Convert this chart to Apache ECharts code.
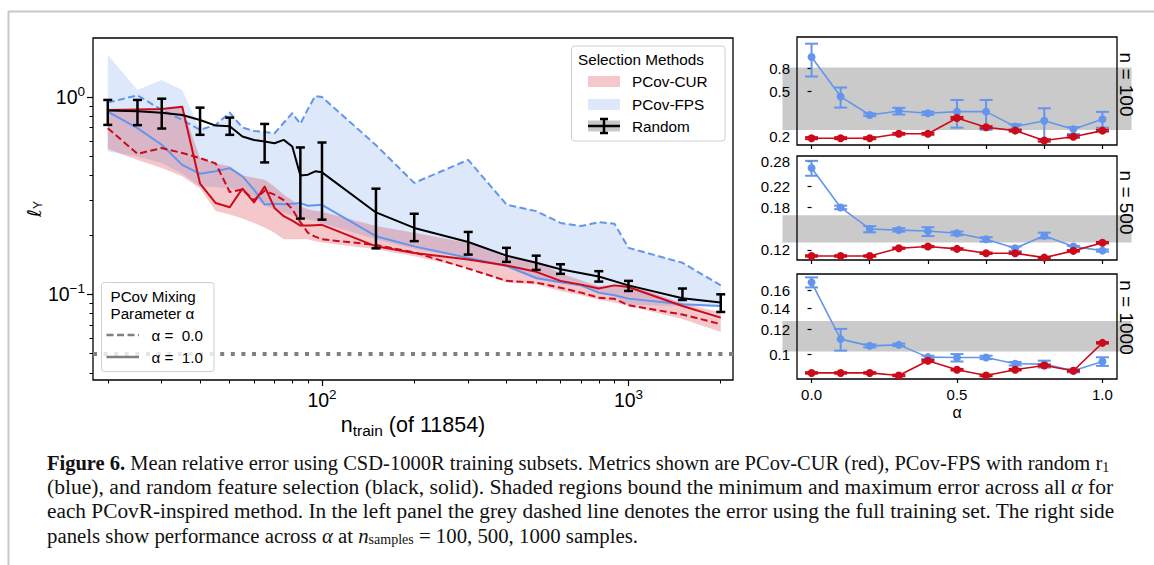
<!DOCTYPE html>
<html>
<head>
<meta charset="utf-8">
<script src="https://cdn.jsdelivr.net/npm/echarts@6.0.0/dist/echarts.min.js"></script>
<style>
  html, body { margin: 0; padding: 0; background: #ffffff; }
  #chart { width: 1154px; height: 565px; }
</style>
</head>
<body>
<div id="chart"></div>
<script>
// ---------- left panel: error vs. number of training samples ----------
const nTrain = [20, 25, 30, 35, 40, 45, 50, 55, 60, 65, 70, 75, 80, 85, 90, 95, 100,
                150, 200, 300, 400, 500, 600, 700, 800, 900, 1000, 1500, 2000];

// PCov-CUR, alpha = 0 (dashed) and alpha = 1 (solid)
const curAlpha0 = [0.695, 0.515, 0.551, 0.52, 0.49, 0.46, 0.33, 0.34, 0.30, 0.335, 0.32, 0.30, 0.27, 0.232, 0.205, 0.196, 0.19,
                   0.178, 0.163, 0.135, 0.117, 0.1146, 0.108, 0.102, 0.0962, 0.0949, 0.088, 0.079, 0.0706];
const curAlpha1 = [0.86, 0.865, 0.87, 0.893, 0.364, 0.29, 0.276, 0.343, 0.292, 0.352, 0.274, 0.249, 0.236, 0.223, 0.223, 0.224, 0.225,
                   0.175, 0.162, 0.150, 0.140, 0.130, 0.117, 0.112, 0.107, 0.111, 0.109, 0.0873, 0.0762];
// PCov-CUR min / max over all alpha
const curMin = [0.545, 0.48, 0.436, 0.396, 0.345, 0.264, 0.254, 0.242, 0.23, 0.218, 0.205, 0.19, 0.19, 0.19, 0.19, 0.186, 0.183,
                0.169, 0.156, 0.136, 0.115, 0.112, 0.104, 0.099, 0.094, 0.091, 0.0873, 0.075, 0.0645];
const curMax = [0.86, 0.865, 0.87, 0.893, 0.49, 0.46, 0.445, 0.40, 0.39, 0.381, 0.352, 0.32, 0.30, 0.279, 0.27, 0.265, 0.262,
                0.222, 0.205, 0.182, 0.154, 0.147, 0.128, 0.118, 0.110, 0.112, 0.112, 0.09, 0.081];

// PCov-FPS, alpha = 0 (dashed) and alpha = 1 (solid)
const fpsAlpha0 = [0.936, 1.02, 0.86, 0.765, 0.681, 0.722, 0.833, 0.70, 0.672, 0.665, 0.655, 0.74, 0.827, 0.73, 0.87, 1.01, 1.0,
                   0.57, 0.367, 0.48, 0.285, 0.264, 0.230, 0.222, 0.232, 0.228, 0.172, 0.1445, 0.111];
const fpsAlpha1 = [0.843, 0.695, 0.573, 0.453, 0.408, 0.42, 0.436, 0.396, 0.339, 0.285, 0.288, 0.286, 0.288, 0.29, 0.281, 0.283, 0.284,
                   0.197, 0.175, 0.153, 0.139, 0.121, 0.115, 0.111, 0.102, 0.099, 0.0951, 0.0891, 0.0873];
// PCov-FPS min / max over all alpha
const fpsMin = [0.53, 0.50, 0.463, 0.41, 0.352, 0.35, 0.345, 0.33, 0.31, 0.283, 0.27, 0.26, 0.25, 0.245, 0.24, 0.235, 0.23,
                0.19, 0.17, 0.152, 0.138, 0.119, 0.114, 0.11, 0.10, 0.098, 0.0885, 0.087, 0.0865];
const fpsMax = [1.63, 1.085, 1.22, 1.085, 0.681, 0.722, 0.833, 0.70, 0.672, 0.665, 0.655, 0.74, 0.827, 0.73, 0.87, 1.01, 1.0,
                0.57, 0.367, 0.48, 0.285, 0.264, 0.230, 0.222, 0.232, 0.228, 0.172, 0.1445, 0.111];

// random selection: mean curve, and error bars on a subset of sizes
const randomN = [20, 25, 30, 35, 40, 45, 50, 55, 60, 65, 70, 75, 80, 85, 90, 95, 100,
                 150, 200, 300, 400, 500, 600, 800, 1000, 1500, 2000];
const randomMean = [0.853, 0.847, 0.833, 0.811, 0.765, 0.716, 0.711, 0.63, 0.605, 0.595, 0.583, 0.606, 0.561, 0.40, 0.404, 0.42, 0.415,
                    0.26, 0.217, 0.184, 0.157, 0.1445, 0.134, 0.123, 0.111, 0.0955, 0.0908];
const randomBarN = [20, 25, 30, 40, 50, 65, 85, 100, 150, 200, 300, 400, 500, 600, 800, 1000, 1500, 2000];
const randomLow  = [0.722, 0.72, 0.692, 0.643, 0.643, 0.466, 0.242, 0.239, 0.171, 0.186, 0.159, 0.146, 0.133, 0.127, 0.116, 0.104, 0.0936, 0.0814];
const randomHigh = [0.966, 0.966, 0.98, 0.883, 0.786, 0.73, 0.555, 0.588, 0.343, 0.256, 0.207, 0.172, 0.157, 0.142, 0.131, 0.117, 0.107, 0.1];

// error with the full training set
const fullSetError = 0.0454;

// axis ticks of the left panel
const nMajorTicks = [100, 1000];
const nMinorTicks = [20, 30, 40, 50, 60, 70, 80, 90, 200, 300, 400, 500, 600, 700, 800, 900, 2000];
const errMajorTicks = [0.1, 1];
const errMinorTicks = [0.04, 0.05, 0.06, 0.07, 0.08, 0.09, 0.2, 0.3, 0.4, 0.5, 0.6, 0.7, 0.8, 0.9];

// ---------- right panels: error vs. alpha ----------
const alphas = [0, 0.1, 0.2, 0.3, 0.4, 0.5, 0.6, 0.7, 0.8, 0.9, 1.0];
const alphaTicks = [0, 0.2, 0.4, 0.6, 0.8, 1.0];
const alphaLabelTicks = [0, 0.5, 1.0];
const alphaBandSpan = [-0.1, 1.1];

// n = 100
const fps100    = [1.0, 0.45, 0.31, 0.336, 0.321, 0.332, 0.332, 0.245, 0.276, 0.232, 0.284];
const fps100Lo  = [0.675, 0.36, 0.303, 0.313, 0.311, 0.24, 0.23, 0.232, 0.19, 0.211, 0.24];
const fps100Hi  = [1.31, 0.54, 0.32, 0.358, 0.332, 0.42, 0.42, 0.257, 0.355, 0.242, 0.33];
const cur100    = [0.194, 0.194, 0.194, 0.212, 0.212, 0.292, 0.242, 0.226, 0.185, 0.2, 0.226];
const cur100Lo  = [0.19, 0.19, 0.19, 0.208, 0.208, 0.286, 0.237, 0.222, 0.181, 0.196, 0.222];
const cur100Hi  = [0.198, 0.198, 0.198, 0.216, 0.216, 0.298, 0.247, 0.23, 0.189, 0.204, 0.23];
const band100   = [0.229, 0.81];
const ticks100  = [0.2, 0.5, 0.8];

// n = 500
const fps500    = [0.262, 0.180, 0.1466, 0.145, 0.1438, 0.1406, 0.1328, 0.122, 0.1374, 0.124, 0.1192];
const fps500Lo  = [0.2435, 0.177, 0.142, 0.1429, 0.137, 0.138, 0.1299, 0.1187, 0.1341, 0.1198, 0.118];
const fps500Hi  = [0.2807, 0.183, 0.1505, 0.1476, 0.149, 0.143, 0.1354, 0.1239, 0.1415, 0.1247, 0.1205];
const cur500    = [0.1133, 0.1133, 0.1133, 0.122, 0.1239, 0.1212, 0.1163, 0.1163, 0.1115, 0.1189, 0.1286];
const cur500Lo  = [0.1125, 0.1125, 0.1125, 0.1212, 0.1231, 0.1204, 0.1155, 0.1155, 0.1107, 0.1181, 0.1277];
const cur500Hi  = [0.1141, 0.1141, 0.1141, 0.1228, 0.1247, 0.122, 0.1171, 0.1171, 0.1123, 0.1197, 0.1295];
const band500   = [0.1287, 0.167];
const ticks500  = [0.12, 0.18, 0.22, 0.28];

// n = 1000
const fps1000   = [0.1693, 0.1116, 0.1062, 0.107, 0.0978, 0.0975, 0.0975, 0.0932, 0.0929, 0.0885, 0.0947];
const fps1000Lo = [0.1631, 0.1026, 0.105, 0.106, 0.0964, 0.0947, 0.0964, 0.092, 0.0906, 0.0875, 0.0917];
const fps1000Hi = [0.1756, 0.1203, 0.1074, 0.108, 0.0988, 0.1, 0.0988, 0.0944, 0.0953, 0.0895, 0.0977];
const cur1000   = [0.0871, 0.0871, 0.0871, 0.0855, 0.0952, 0.0892, 0.0855, 0.0892, 0.092, 0.0885, 0.1086];
const cur1000Lo = [0.0866, 0.0866, 0.0866, 0.085, 0.0946, 0.0887, 0.085, 0.0887, 0.0914, 0.088, 0.108];
const cur1000Hi = [0.0876, 0.0876, 0.0876, 0.086, 0.0958, 0.0897, 0.086, 0.0897, 0.0926, 0.089, 0.1092];
const band1000  = [0.1019, 0.1276];
const ticks1000 = [0.1, 0.12, 0.14, 0.16];

// ---------- styling ----------
const SANS = '"Liberation Sans", Arial, Helvetica, sans-serif';
const SERIF = '"Liberation Serif", "Times New Roman", serif';
const RED = '#cc0a1a';
const BLUE = '#6495ed';
const RED_FILL = 'rgba(204,0,17,0.22)';
const BLUE_FILL = 'rgba(100,149,237,0.22)';
const GREY = '#808080';

const chart = echarts.init(document.getElementById('chart'), null, { renderer: 'svg', width: 1154, height: 565 });

function pairs(xs, ys) { return xs.map((x, i) => [x, ys[i]]); }

function bandSeries(xs, lo, hi, fill, z) {
  return {
    type: 'custom', xAxisIndex: 0, yAxisIndex: 0, silent: true, z: z,
    data: [[xs[0], hi[0]]],
    renderItem: function (params, api) {
      const pts = [];
      for (let i = 0; i < xs.length; i++) pts.push(api.coord([xs[i], hi[i]]));
      for (let i = xs.length - 1; i >= 0; i--) pts.push(api.coord([xs[i], lo[i]]));
      return { type: 'polygon', shape: { points: pts }, style: { fill: fill, stroke: null } };
    }
  };
}

function lineSeries(xs, ys, color, dash, width, xi, yi, z) {
  return {
    type: 'line', xAxisIndex: xi, yAxisIndex: yi, data: pairs(xs, ys),
    symbol: 'none', showSymbol: false, silent: true, z: z,
    lineStyle: { color: color, width: width, type: dash || 'solid', cap: 'butt', join: 'round' }
  };
}

function errorBars(xs, lo, hi, color, capHalf, width, xi, yi, z) {
  return {
    type: 'custom', xAxisIndex: xi, yAxisIndex: yi, silent: true, z: z,
    data: xs.map((x, i) => [x, lo[i], hi[i]]),
    encode: { x: 0, y: [1, 2] },
    renderItem: function (params, api) {
      const x = api.value(0);
      const a = api.coord([x, api.value(1)]);
      const b = api.coord([x, api.value(2)]);
      const st = { stroke: color, lineWidth: width, fill: null };
      return {
        type: 'group', children: [
          { type: 'line', shape: { x1: a[0], y1: a[1], x2: b[0], y2: b[1] }, style: st },
          { type: 'line', shape: { x1: a[0] - capHalf, y1: a[1], x2: a[0] + capHalf, y2: a[1] }, style: st },
          { type: 'line', shape: { x1: b[0] - capHalf, y1: b[1], x2: b[0] + capHalf, y2: b[1] }, style: st }
        ]
      };
    }
  };
}

function alphaBand(range, xi, yi) {
  return {
    type: 'custom', xAxisIndex: xi, yAxisIndex: yi, silent: true, z: -1, clip: false,
    data: [[alphaBandSpan[0], range[0]]],
    renderItem: function (params, api) {
      const p0 = api.coord([alphaBandSpan[0], range[1]]);
      const p1 = api.coord([alphaBandSpan[1], range[0]]);
      return { type: 'rect', shape: { x: p0[0], y: p0[1], width: p1[0] - p0[0], height: p1[1] - p0[1] },
               style: { fill: '#cacaca' } };
    }
  };
}

function alphaSeries(ys, color, xi, yi, z) {
  return {
    type: 'line', xAxisIndex: xi, yAxisIndex: yi, data: pairs(alphas, ys), silent: true, z: z,
    symbol: 'circle', symbolSize: 8, showSymbol: true,
    itemStyle: { color: color }, lineStyle: { color: color, width: 1.6 }
  };
}

const tickStyle = { color: '#000', width: 1.2 };

function sciLabel(v) {
  const e = Math.round(Math.log10(v));
  return '{b|10}{e|' + (e < 0 ? '\u2212' + (-e) : e) + '}';
}
const sciRich = {
  b: { fontSize: 19.5, fontFamily: SANS, color: '#000' },
  e: { fontSize: 13.5, fontFamily: SANS, color: '#000', padding: [0, 0, 11, 0] }
};

const grids = [
  { left: 93, top: 38, width: 640, height: 342 },
  { left: 797, top: 37, width: 320, height: 108 },
  { left: 797, top: 156, width: 320, height: 104 },
  { left: 797, top: 274, width: 320, height: 105 }
].map(g => Object.assign({ show: true, borderColor: '#000', borderWidth: 1.3, backgroundColor: 'transparent',
                           containLabel: false, outerBoundsMode: 'none' }, g));

function alphaAxis(gi, withLabels) {
  return {
    type: 'value', gridIndex: gi, min: -0.05, max: 1.05, position: 'bottom',
    axisLine: { show: false }, splitLine: { show: false },
    axisTick: { show: true, length: 4, lineStyle: tickStyle,
                customValues: withLabels ? alphaLabelTicks : alphaTicks },
    axisLabel: { show: withLabels, customValues: alphaLabelTicks, formatter: v => v.toFixed(1),
                 fontSize: 15, fontFamily: SANS, color: '#000', margin: 8 },
    name: withLabels ? '\u03b1' : '', nameLocation: 'middle', nameGap: 25,
    nameTextStyle: { fontSize: 16, fontFamily: SANS, color: '#000' }
  };
}

function errAxis(gi, lo, hi, ticks) {
  return {
    type: 'log', logBase: 10, gridIndex: gi, min: lo, max: hi, position: 'left',
    axisLine: { show: false }, splitLine: { show: false },
    axisTick: { show: true, length: 4, lineStyle: tickStyle, customValues: ticks },
    axisLabel: { customValues: ticks, formatter: v => String(+(+v).toPrecision(3)),
                 fontSize: 15, fontFamily: SANS, color: '#000', margin: 7 }
  };
}

const option = {
  animation: false,
  backgroundColor: '#ffffff',
  grid: grids,
  xAxis: [
    {
      type: 'log', logBase: 10, gridIndex: 0, min: 17.9, max: 2193, position: 'bottom',
      axisLine: { show: false }, splitLine: { show: false },
      axisTick: { show: true, length: 6, lineStyle: tickStyle, customValues: nMajorTicks },
      axisLabel: { customValues: nMajorTicks, formatter: sciLabel, rich: sciRich, margin: 7 },
      name: 'n{s|train} (of 11854)', nameLocation: 'middle', nameGap: 28,
      nameTextStyle: { fontSize: 21.5, fontFamily: SANS, color: '#000',
                       rich: { s: { fontSize: 15.5, fontFamily: SANS, color: '#000', padding: [11, 0, 0, 0] } } }
    },
    {
      type: 'log', logBase: 10, gridIndex: 0, min: 17.9, max: 2193, position: 'bottom',
      axisLine: { show: false }, splitLine: { show: false },
      axisTick: { show: true, length: 3.5, lineStyle: { color: '#000', width: 1 }, customValues: nMinorTicks },
      axisLabel: { show: false }
    },
    alphaAxis(1, false),
    alphaAxis(2, false),
    alphaAxis(3, true)
  ],
  yAxis: [
    {
      type: 'log', logBase: 10, gridIndex: 0, min: 0.0368, max: 1.99, position: 'left',
      axisLine: { show: false }, splitLine: { show: false },
      axisTick: { show: true, length: 6, lineStyle: tickStyle, customValues: errMajorTicks },
      axisLabel: { customValues: errMajorTicks, formatter: sciLabel, rich: sciRich, margin: 8 },
      name: '{l|\u2113}{s|Y}', nameLocation: 'middle', nameRotate: 90, nameGap: 49, nameMoveOverlap: false,
      nameTextStyle: { color: '#000', fontFamily: SANS, fontSize: 19,
                       rich: { l: { fontSize: 19, fontFamily: '"DejaVu Sans", sans-serif', color: '#000' },
                               s: { fontSize: 12, fontFamily: SANS, color: '#000', padding: [9, 0, 0, 0] } } }
    },
    {
      type: 'log', logBase: 10, gridIndex: 0, min: 0.0368, max: 1.99, position: 'left',
      axisLine: { show: false }, splitLine: { show: false },
      axisTick: { show: true, length: 3.5, lineStyle: { color: '#000', width: 1 }, customValues: errMinorTicks },
      axisLabel: { show: false }
    },
    errAxis(1, 0.169, 1.50, ticks100),
    errAxis(2, 0.109, 0.294, ticks500),
    errAxis(3, 0.0833, 0.18, ticks1000)
  ],
  series: [
    // shaded min/max regions
    bandSeries(nTrain, fpsMin, fpsMax, BLUE_FILL, 1),
    bandSeries(nTrain, curMin, curMax, RED_FILL, 1),
    // alpha = 0 (dashed) and alpha = 1 (solid)
    lineSeries(nTrain, fpsAlpha0, BLUE, [7, 3.5], 2, 0, 0, 3),
    lineSeries(nTrain, fpsAlpha1, BLUE, 'solid', 2, 0, 0, 3),
    lineSeries(nTrain, curAlpha0, RED, [7, 3.5], 2, 0, 0, 4),
    lineSeries(nTrain, curAlpha1, RED, 'solid', 2, 0, 0, 4),
    // random selection
    Object.assign(lineSeries(randomN, randomMean, '#000', 'solid', 2, 0, 0, 5), {
      markLine: {
        silent: true, symbol: 'none', label: { show: false },
        lineStyle: { color: GREY, width: 4, type: [4, 6.6], cap: 'butt' },
        data: [{ yAxis: fullSetError }]
      }
    }),
    errorBars(randomBarN, randomLow, randomHigh, '#000', 4.5, 2.5, 0, 0, 6),

    // right panels
    alphaBand(band100, 2, 2),
    errorBars(alphas, fps100Lo, fps100Hi, BLUE, 6.5, 2, 2, 2, 3),
    alphaSeries(fps100, BLUE, 2, 2, 4),
    errorBars(alphas, cur100Lo, cur100Hi, RED, 6.5, 2, 2, 2, 5),
    alphaSeries(cur100, RED, 2, 2, 6),

    alphaBand(band500, 3, 3),
    errorBars(alphas, fps500Lo, fps500Hi, BLUE, 6.5, 2, 3, 3, 3),
    alphaSeries(fps500, BLUE, 3, 3, 4),
    errorBars(alphas, cur500Lo, cur500Hi, RED, 6.5, 2, 3, 3, 5),
    alphaSeries(cur500, RED, 3, 3, 6),

    alphaBand(band1000, 4, 4),
    errorBars(alphas, fps1000Lo, fps1000Hi, BLUE, 6.5, 2, 4, 4, 3),
    alphaSeries(fps1000, BLUE, 4, 4, 4),
    errorBars(alphas, cur1000Lo, cur1000Hi, RED, 6.5, 2, 4, 4, 5),
    alphaSeries(cur1000, RED, 4, 4, 6)
  ],
  graphic: {
    elements: [
      // page frame
      { type: 'line', shape: { x1: 8, y1: 11.5, x2: 1154, y2: 11.5 }, style: { stroke: '#c8c8c8', lineWidth: 2 } },
      { type: 'line', shape: { x1: 8.5, y1: 11, x2: 8.5, y2: 565 }, style: { stroke: '#c8c8c8', lineWidth: 2 } },

      // legend: selection methods
      { type: 'rect', z: 100, shape: { x: 571.5, y: 46, width: 153.5, height: 95, r: 3 },
        style: { fill: 'rgba(255,255,255,0.8)', stroke: '#d0d0d0', lineWidth: 1 } },
      { type: 'text', z: 101, x: 578, y: 59, style: { text: 'Selection Methods', font: '15.3px ' + SANS, fill: '#000', verticalAlign: 'middle' } },
      { type: 'rect', z: 101, shape: { x: 588, y: 76, width: 32, height: 11 }, style: { fill: RED_FILL } },
      { type: 'text', z: 101, x: 632, y: 81.5, style: { text: 'PCov-CUR', font: '15.3px ' + SANS, fill: '#000', verticalAlign: 'middle' } },
      { type: 'rect', z: 101, shape: { x: 588, y: 99, width: 32, height: 11 }, style: { fill: BLUE_FILL } },
      { type: 'text', z: 101, x: 632, y: 104.5, style: { text: 'PCov-FPS', font: '15.3px ' + SANS, fill: '#000', verticalAlign: 'middle' } },
      { type: 'rect', z: 101, shape: { x: 588, y: 120.5, width: 32, height: 11 }, style: { fill: '#c8c8c8' } },
      { type: 'line', z: 102, shape: { x1: 588, y1: 126, x2: 620, y2: 126 }, style: { stroke: '#000', lineWidth: 2.5 } },
      { type: 'line', z: 102, shape: { x1: 604, y1: 119, x2: 604, y2: 133 }, style: { stroke: '#000', lineWidth: 2.5 } },
      { type: 'line', z: 102, shape: { x1: 600, y1: 119, x2: 608, y2: 119 }, style: { stroke: '#000', lineWidth: 2.5 } },
      { type: 'line', z: 102, shape: { x1: 600, y1: 133, x2: 608, y2: 133 }, style: { stroke: '#000', lineWidth: 2.5 } },
      { type: 'text', z: 101, x: 632, y: 126.5, style: { text: 'Random', font: '15.3px ' + SANS, fill: '#000', verticalAlign: 'middle' } },

      // legend: mixing parameter
      { type: 'rect', z: 100, shape: { x: 101.5, y: 282.5, width: 112.5, height: 89, r: 3 },
        style: { fill: 'rgba(255,255,255,0.8)', stroke: '#d0d0d0', lineWidth: 1 } },
      { type: 'text', z: 101, x: 110.5, y: 296, style: { text: 'PCov Mixing', font: '15.2px ' + SANS, fill: '#000', verticalAlign: 'middle' } },
      { type: 'text', z: 101, x: 110.5, y: 313.5, style: { text: 'Parameter \u03b1', font: '15.2px ' + SANS, fill: '#000', verticalAlign: 'middle' } },
      { type: 'line', z: 101, shape: { x1: 106.5, y1: 335, x2: 139, y2: 335 }, style: { stroke: GREY, lineWidth: 2.5, lineDash: [7, 3.5] } },
      { type: 'text', z: 101, x: 151.5, y: 335.5, style: { text: '\u03b1 =  0.0', font: '15.2px ' + SANS, fill: '#000', verticalAlign: 'middle' } },
      { type: 'line', z: 101, shape: { x1: 106.5, y1: 357, x2: 139, y2: 357 }, style: { stroke: GREY, lineWidth: 2.5 } },
      { type: 'text', z: 101, x: 151.5, y: 357.5, style: { text: '\u03b1 =  1.0', font: '15.2px ' + SANS, fill: '#000', verticalAlign: 'middle' } },

      // right panel titles
      { type: 'text', x: 1126, y: 84.5, rotation: -Math.PI / 2,
        style: { text: 'n = 100', font: '19px ' + SANS, fill: '#000', align: 'center', verticalAlign: 'middle' } },
      { type: 'text', x: 1126, y: 202.5, rotation: -Math.PI / 2,
        style: { text: 'n = 500', font: '19px ' + SANS, fill: '#000', align: 'center', verticalAlign: 'middle' } },
      { type: 'text', x: 1126, y: 317.5, rotation: -Math.PI / 2,
        style: { text: 'n = 1000', font: '19px ' + SANS, fill: '#000', align: 'center', verticalAlign: 'middle' } },

      // caption
      { type: 'text', x: 47, y: 463, style: {
          text: '{b|Figure 6.} Mean relative error using CSD-1000R training subsets. Metrics shown are PCov-CUR (red), PCov-FPS with random r{sub|1}',
          font: '20.5px ' + SERIF, fill: '#111', verticalAlign: 'middle',
          rich: { b: { fontWeight: 'bold', fontSize: 20.5, fontFamily: SERIF, fill: '#111' },
                  sub: { fontSize: 14, fontFamily: SERIF, fill: '#111', padding: [8, 0, 0, 0] } } } },
      { type: 'text', x: 47, y: 487, style: {
          text: '(blue), and random feature selection (black, solid). Shaded regions bound the minimum and maximum error across all {i|\u03b1} for',
          font: '21.6px ' + SERIF, fill: '#111', verticalAlign: 'middle',
          rich: { i: { fontStyle: 'italic', fontSize: 21.6, fontFamily: SERIF, fill: '#111' } } } },
      { type: 'text', x: 47, y: 511, style: {
          text: 'each PCovR-inspired method. In the left panel the grey dashed line denotes the error using the full training set. The right side',
          font: '21.3px ' + SERIF, fill: '#111', verticalAlign: 'middle' } },
      { type: 'text', x: 47, y: 535, style: {
          text: 'panels show performance across {i|\u03b1} at {i|n}{sub|samples} = 100, 500, 1000 samples.',
          font: '20.8px ' + SERIF, fill: '#111', verticalAlign: 'middle',
          rich: { i: { fontStyle: 'italic', fontSize: 20.8, fontFamily: SERIF, fill: '#111' },
                  sub: { fontSize: 14, fontFamily: SERIF, fill: '#111', padding: [8, 0, 0, 0] } } } }
    ]
  }
};

chart.setOption(option);
</script>
</body>
</html>
